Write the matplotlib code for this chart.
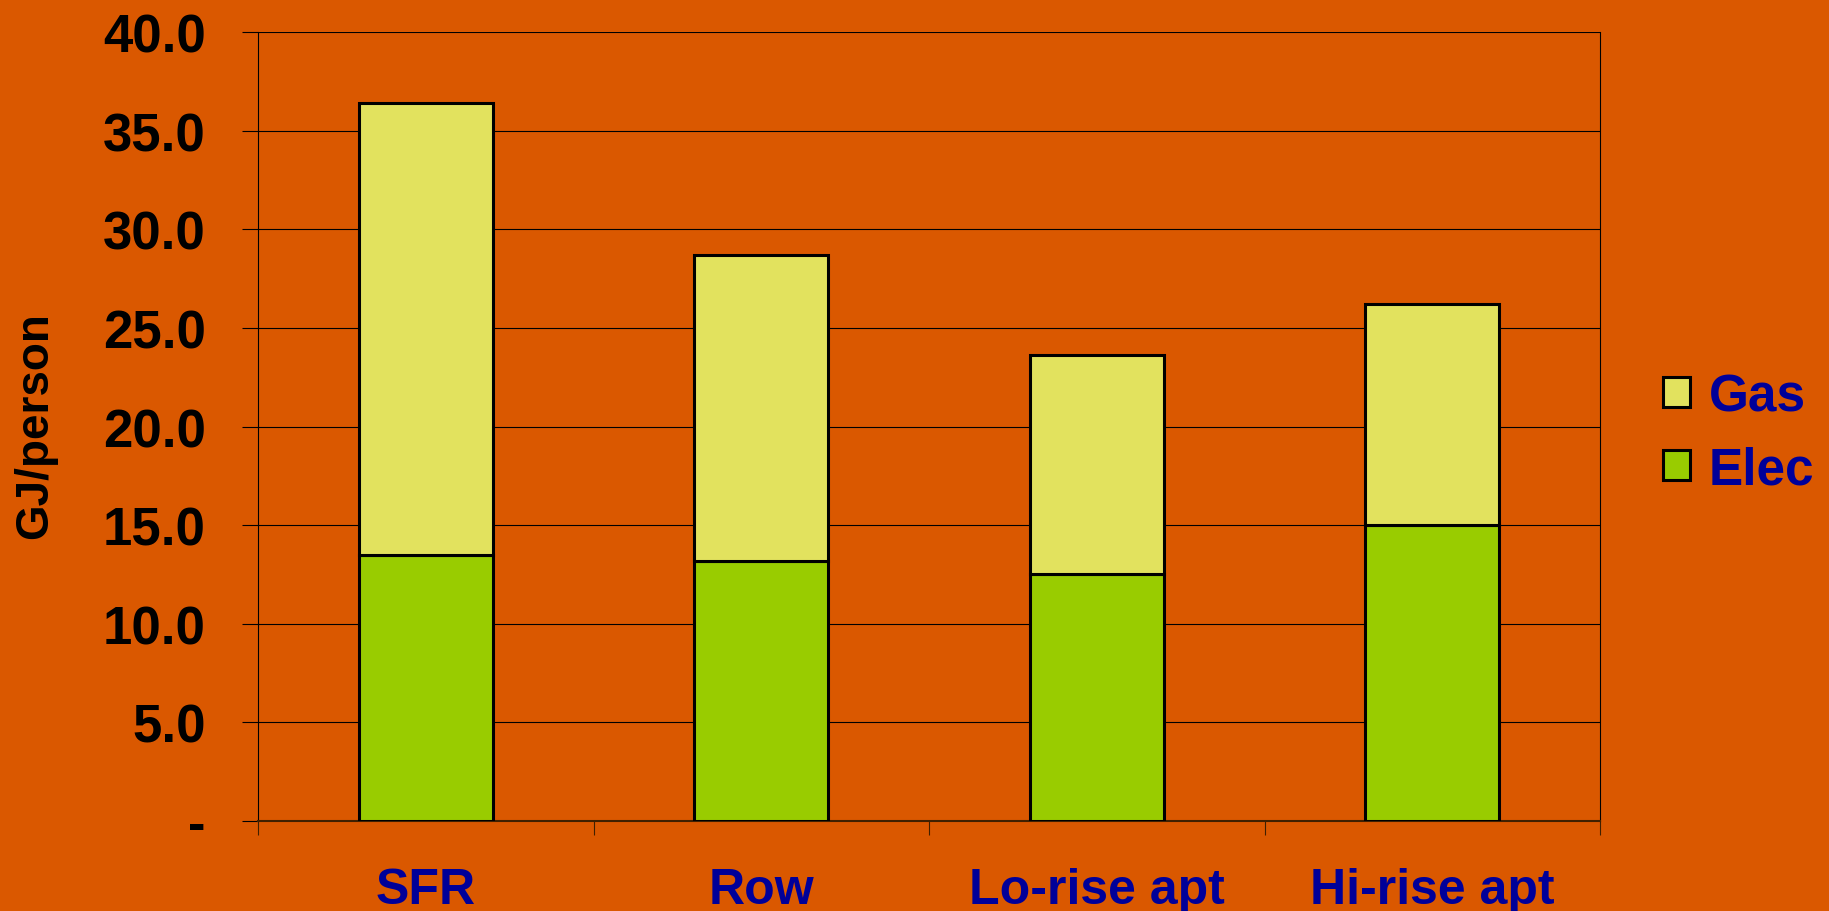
import matplotlib
matplotlib.use("Agg")
import matplotlib.pyplot as plt
import numpy as np
from matplotlib.patches import Patch

# Data (GJ/person)
categories = ["SFR", "Row", "Lo-rise apt", "Hi-rise apt"]
elec = [13.5, 13.2, 12.5, 15.0]
gas = [22.9, 15.5, 11.1, 11.2]
y_ticks = [0, 5, 10, 15, 20, 25, 30, 35, 40]
y_tick_labels = ["-", "5.0", "10.0", "15.0", "20.0", "25.0", "30.0", "35.0", "40.0"]

BG = "#DA5800"
GAS_COLOR = "#E2E25E"
ELEC_COLOR = "#99CC00"
TEXT_BLUE = "#000099"

plt.rcParams["font.family"] = ["Liberation Sans", "DejaVu Sans"]

fig = plt.figure(figsize=(18.29, 9.12), dpi=100, facecolor=BG)
ax = fig.add_axes([0.1411, 0.0987, 0.8748 - 0.1411, 0.9638 - 0.0987])
ax.set_facecolor(BG)

x = np.arange(len(categories))
width = 0.4
ax.bar(x, elec, width, color=ELEC_COLOR, edgecolor="black", linewidth=2.2, zorder=3)
ax.bar(x, gas, width, bottom=elec, color=GAS_COLOR, edgecolor="black", linewidth=2.2, zorder=3)

ax.set_xlim(-0.5, len(categories) - 0.5)
ax.set_ylim(0, 40)

# Y axis
ax.set_yticks(y_ticks)
ax.set_yticklabels(y_tick_labels, fontsize=38, fontweight="bold")
ax.tick_params(axis="y", length=11.5, width=0.8, pad=26, color="black")
ax.yaxis.grid(True, color="black", linewidth=0.8, zorder=0)
ax.set_axisbelow(True)

# X axis: ticks at category boundaries, labels centred on bars
ax.set_xticks(np.arange(len(categories) + 1) - 0.5)
ax.set_xticklabels([])
ax.tick_params(axis="x", which="major", length=10, width=0.8, color="#402000")
ax.set_xticks(x, minor=True)
ax.set_xticklabels(categories, minor=True, fontsize=36, fontweight="bold", color=TEXT_BLUE)
ax.tick_params(axis="x", which="minor", length=0, pad=33)

for side in ["left", "right"]:
    ax.spines[side].set_color("black")
    ax.spines[side].set_linewidth(0.8)
ax.spines["top"].set_visible(False)
ax.spines["bottom"].set_color("#402000")
ax.spines["bottom"].set_linewidth(1.5)

fig.text(0.019, 0.533, "GJ/person", rotation=90, fontsize=33, fontweight="bold",
         ha="center", va="center")

handles = [Patch(facecolor=GAS_COLOR, edgecolor="black", linewidth=2.2),
           Patch(facecolor=ELEC_COLOR, edgecolor="black", linewidth=2.2)]
leg = fig.legend(handles, ["Gas", "Elec"], loc="center left",
                 bbox_to_anchor=(0.909, 0.524), frameon=False,
                 borderpad=0, borderaxespad=0,
                 prop={"size": 37, "weight": "bold"},
                 handlelength=0.53, handleheight=0.53, handletextpad=0.37,
                 labelspacing=0.47)
for t in leg.get_texts():
    t.set_color(TEXT_BLUE)

fig.savefig("out.png", dpi=100, facecolor=BG)
